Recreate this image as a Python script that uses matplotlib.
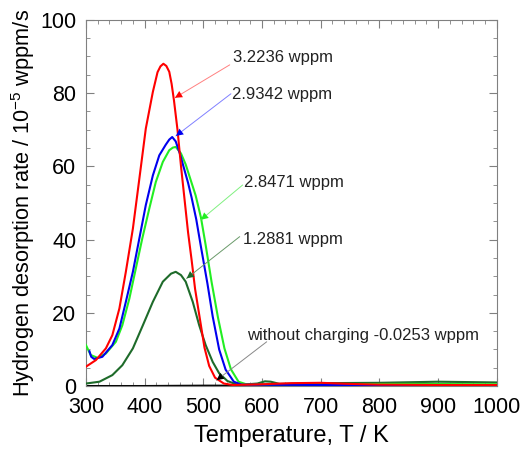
import numpy as np
import matplotlib.pyplot as plt
from matplotlib.ticker import MultipleLocator

plt.rcParams['font.family'] = ['Liberation Sans', 'DejaVu Sans']
plt.rcParams['mathtext.default'] = 'regular'

# --- data (T in K, rate in 1e-5 wppm/s) ---
T_red = [300, 317, 334, 345, 357, 368, 380, 391, 402, 414, 422, 427, 432, 437, 442,
         446, 450, 456, 462, 468, 474, 480, 486, 494, 502, 510, 520, 535, 550,
         600, 650, 700, 750, 800, 900, 1000]
v_red = [5.3, 7.1, 10.3, 13.9, 21.2, 31.2, 43, 56.6, 70.3, 80.3, 85.7, 87.3, 88, 87.4, 85.8,
         82.5, 78, 70, 60, 51, 42, 34.5, 26.5, 18.5, 10.5, 5.5, 2.3, 0.7, 0.3,
         0.5, 0.8, 0.9, 0.6, 0.4, 0.3, 0.3]

T_blue = [306, 309, 314, 328, 345, 357, 368, 380, 391, 402, 414, 425, 436, 442, 447,
          453, 460, 467, 474, 480, 488, 496, 507, 516, 527, 538, 552, 565,
          700, 850, 1000]
v_blue = [9.5, 8.0, 7.4, 8.0, 11.2, 15.7, 23, 31.2, 40.3, 49.4, 57.5, 63, 65.9, 67.3, 68,
          66.8, 63.5, 59.5, 55.5, 51.5, 45.5, 38, 28, 19, 10, 4.5, 1.2, 0.4,
          0.3, 0.2, 0.2]

T_green = [300, 308, 320, 334, 351, 362, 374, 385, 396, 408, 419, 431, 442, 448, 453,
           462, 470, 478, 487, 496, 504, 514, 525, 536, 547, 560, 575,
           700, 850, 1000]
v_green = [11.2, 8.5, 7.7, 8.9, 12.1, 16.6, 23.9, 32.1, 40.3, 48.5, 55.7, 61.2, 64.4, 65.1, 65.3,
           63.5, 60.5, 56.5, 52, 46, 38.5, 28.5, 18.7, 10.3, 4.6, 1.2, 0.4,
           0.5, 0.6, 0.5]

T_dkgreen = [300, 323, 345, 362, 380, 397, 414, 431, 445, 453, 462, 470, 482, 493, 504,
             516, 527, 541, 556, 575, 592, 605, 615, 630, 700, 800, 900, 1000]
v_dkgreen = [0.7, 1.2, 3.0, 5.7, 10.3, 16.6, 23, 28.5, 30.7, 31.2, 30.3, 28.5, 23, 16.6, 11.2,
             6.6, 3.5, 1.4, 0.5, 0.5, 0.7, 1.3, 1.2, 0.6, 0.8, 0.9, 1.2, 1.0]

T_black = [300, 400, 500, 600, 700, 800, 900, 1000]
v_black = [0.0, 0.0, 0.1, 0.1, 0.1, 0.1, 0.1, 0.1]

labels = ['3.2236 wppm', '2.9342 wppm', '2.8471 wppm', '1.2881 wppm',
          'without charging -0.0253 wppm']
label_xy = [(550, 89.6), (549, 79.5), (569, 55.5), (567, 39.9), (574, 13.9)]
arrow_from = [(545, 87.7), (547, 79.8), (567, 54.9), (562, 40.8), (608, 12.1)]
arrow_to = [(451.6, 78.7), (453.3, 68.3), (495.9, 45.4), (471.5, 29.4), (522.6, 1.6)]

colors = ['#ff0000', '#0000ee', '#22ee22', '#1e6b2a', '#000000']
line_cols = ['#ff8080', '#8080ff', '#80f080', '#6a9a6a', '#888888']

fig = plt.figure(figsize=(5.24, 4.5), dpi=100)
ax = fig.add_axes([0.164, 0.142, 0.784, 0.814])

ax.plot(T_black, v_black, color=colors[4], lw=1.6, zorder=2)
ax.plot(T_dkgreen, v_dkgreen, color=colors[3], lw=1.5, zorder=3)
ax.plot(T_green, v_green, color=colors[2], lw=1.5, zorder=4)
ax.plot(T_blue, v_blue, color=colors[1], lw=1.5, zorder=5)
ax.plot(T_red, v_red, color=colors[0], lw=1.5, zorder=6)

for i in range(len(labels)):
    ax.text(label_xy[i][0], label_xy[i][1], labels[i], fontsize=12,
            ha='left', va='center', color='#222222')
    ax.annotate('', xy=arrow_to[i], xytext=arrow_from[i],
                arrowprops=dict(arrowstyle='-', color=line_cols[i], lw=0.7,
                                shrinkA=0, shrinkB=0), zorder=7)
    ax.annotate('', xy=arrow_to[i], xytext=arrow_from[i],
                arrowprops=dict(arrowstyle='-|>', color=colors[i], lw=0,
                                mutation_scale=13, shrinkA=0, shrinkB=0), zorder=7)

ax.set_xlim(300, 1000)
ax.set_ylim(0, 100)
ax.xaxis.set_major_locator(MultipleLocator(100))
ax.xaxis.set_minor_locator(MultipleLocator(20))
ax.yaxis.set_major_locator(MultipleLocator(20))
ax.yaxis.set_minor_locator(MultipleLocator(5))
ax.tick_params(which='both', direction='in', top=True, right=True, color='#808080',
               labelsize=15.5)
ax.tick_params(which='major', length=6)
ax.tick_params(which='minor', length=3)
ax.tick_params(axis='x', which='major', pad=8)
ax.tick_params(axis='y', which='major', pad=7)
for s in ax.spines.values():
    s.set_color('#808080')

ax.set_xlabel('Temperature, T / K', fontsize=17, labelpad=5)
ax.set_ylabel('Hydrogen desorption rate / 10$^{-5}$ wppm/s', fontsize=15.7, labelpad=2)

fig.savefig('out.png', dpi=100)
